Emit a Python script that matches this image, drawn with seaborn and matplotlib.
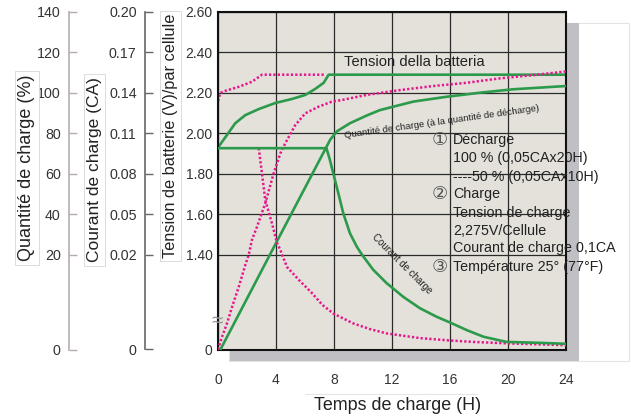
import numpy as np
import matplotlib
matplotlib.use("Agg")
import matplotlib.pyplot as plt
from matplotlib.patches import Rectangle
from matplotlib.lines import Line2D
import seaborn as sns

# ---------------- data ----------------
hours = [0, 4, 8, 12, 16, 20, 24]
volt_ticks = [0, 1.40, 1.60, 1.80, 2.00, 2.20, 2.40, 2.60]
volt_labels = ["0", "1.40", "1.60", "1.80", "2.00", "2.20", "2.40", "2.60"]
qty_ticks = [0, 20, 40, 60, 80, 100, 120, 140]
qty_labels = ["0", "20", "40", "60", "80", "100", "120", "140"]
cur_ticks = [0, 0.02, 0.05, 0.08, 0.11, 0.14, 0.17, 0.20]
cur_labels = ["0", "0.02", "0.05", "0.08", "0.11", "0.14", "0.17", "0.20"]

# battery voltage, 100 % discharge (green) / 50 % discharge (magenta dotted)
t_v100 = [0, 0.5, 1.19, 1.88, 2.81, 3.95, 5.10, 6.02, 6.71, 7.29, 7.63, 24]
v_v100 = [1.93, 1.98, 2.05, 2.09, 2.12, 2.15, 2.17, 2.19, 2.22, 2.25, 2.29, 2.29]
t_v50 = [0, 0.16, 0.5, 1.43, 2.34, 3.03, 7.3]
v_v50 = [2.16, 2.20, 2.21, 2.23, 2.255, 2.29, 2.29]

# charged quantity (%)
t_q100 = [0.17, 3.58, 7.75, 8.2, 9.1, 10.25, 11.17, 13.47, 15.77, 18.07, 20.37, 24]
q_q100 = [0, 20, 77.0, 81.0, 85.0, 88.8, 91.5, 95.7, 98.1, 100.1, 101.8, 103.4]
t_q50 = [0, 0.28, 0.62, 0.97, 1.43, 1.88, 2.12, 2.34, 2.69, 3.26, 3.84, 4.30,
         4.64, 5.33, 6.02, 6.94, 7.86, 8.55, 10.25, 12.55, 14.85, 17.15, 19.45,
         21.75, 24]
q_q50 = [0, 2.7, 5.5, 9.0, 13.2, 17.8, 20.0, 27.3, 33.8, 45.4, 60.3, 70.1,
         75.1, 84.1, 89.9, 93.2, 95.7, 96.5, 99.0, 101.4, 103.4, 105.0, 107.2,
         108.8, 110.6]

# charge current (CA)
t_c100 = [0, 7.48, 7.72, 7.95, 8.30, 8.64, 9.10, 9.57, 9.93, 10.71, 11.63,
          12.78, 13.93, 15.08, 16.0, 17.15, 18.30, 19.45, 19.91, 22.2, 24]
c_c100 = [0.099, 0.099, 0.0902, 0.0803, 0.0655, 0.0507, 0.0359, 0.0260,
          0.0200, 0.0168, 0.0140, 0.0111, 0.0087, 0.0069, 0.0057, 0.0041,
          0.0027, 0.0019, 0.0016, 0.0014, 0.0012]
t_c50 = [2.81, 3.03, 3.26, 3.72, 4.07, 4.30, 4.42, 4.76, 5.57, 6.48, 7.2,
         7.95, 9.33, 10.48, 11.63, 13.93, 16.0, 17.6, 19.9, 24]
c_c50 = [0.099, 0.0804, 0.0606, 0.0433, 0.0287, 0.0235, 0.0200, 0.0174,
         0.0147, 0.0119, 0.0094, 0.0076, 0.0055, 0.0043, 0.0034, 0.0024,
         0.0019, 0.0016, 0.0013, 0.0009]

legend_lines = ["Décharge", "100 % (0,05CAx20H)", "----50 % (0,05CAx10H)",
                "Charge", "Tension de charge", "2,275V/Cellule",
                "Courant de charge 0,1CA", "Température 25° (77°F)"]
legend_marks = {0: "①", 3: "②", 7: "③"}

# ---------------- style ----------------
sns.set_theme(style="white")
plt.rcParams["font.family"] = ["Liberation Sans", "DejaVu Sans", "Noto Sans CJK JP"]

GREEN = "#2b9a4b"
MAGENTA = "#e8168c"
BG = "#e3e1da"
SHADOW = "#bfbfc4"
TXT = "#222222"

W, H = 631, 416
fig = plt.figure(figsize=(W / 100, H / 100), dpi=100)
fig.patch.set_facecolor("white")


def P(x, y):
    return x / W, 1 - y / H


# frame + drop shadow
fig.patches.append(Rectangle(P(229, 361), (629 - 229) / W, (361 - 23) / H,
                             transform=fig.transFigure, facecolor="white",
                             edgecolor="#e4e4e4", lw=0.8, zorder=-3))
fig.patches.append(Rectangle(P(230, 361), (579 - 230) / W, (361 - 23) / H,
                             transform=fig.transFigure, facecolor=SHADOW,
                             edgecolor="none", zorder=-2))

L, R, T, B = 218, 566, 12, 349.5
ax = fig.add_axes([L / W, 1 - B / H, (R - L) / W, (B - T) / H])
axq = ax.twinx()
axc = ax.twinx()

SEG = 94.8 / 40.45  # broken-axis lower segment, in grid steps


def broken(b, step):
    k = SEG * step / b

    def fwd(v):
        v = np.asarray(v, dtype=float)
        return np.where(v >= b, v, b - (b - v) * k)

    def inv(u):
        u = np.asarray(u, dtype=float)
        return np.where(u >= b, u, b - (b - u) / k)
    return fwd, inv


ax.set_yscale("function", functions=broken(1.40, 0.20))
axq.set_yscale("function", functions=broken(20, 20))
axc.set_yscale("function", functions=broken(0.02, 0.03))

ax.set_facecolor(BG)
ax.set_axisbelow(True)

lw_g = 1.9
lw_m = 1.8
dots = (0, (0.9, 0.85))

sns.lineplot(x=t_v50, y=v_v50, ax=ax, color=MAGENTA, linewidth=lw_m,
             linestyle=dots, estimator=None, sort=False)
sns.lineplot(x=t_v100, y=v_v100, ax=ax, color=GREEN, linewidth=lw_g,
             estimator=None, sort=False)
sns.lineplot(x=t_q100, y=q_q100, ax=axq, color=GREEN, linewidth=lw_g,
             estimator=None, sort=False)
sns.lineplot(x=t_q50, y=q_q50, ax=axq, color=MAGENTA, linewidth=lw_m,
             linestyle=dots, estimator=None, sort=False)
sns.lineplot(x=t_c50, y=c_c50, ax=axc, color=MAGENTA, linewidth=lw_m,
             linestyle=dots, estimator=None, sort=False)
sns.lineplot(x=t_c100, y=c_c100, ax=axc, color=GREEN, linewidth=lw_g,
             estimator=None, sort=False)

for a in (ax, axq, axc):
    a.set_xlim(0, 24)
    a.set_xlabel("")
    a.set_ylabel("")
ax.set_ylim(0, 2.60)
axq.set_ylim(0, 140)
axc.set_ylim(0, 0.20)

# main axis: voltage
ax.set_xticks(hours)
ax.set_xticklabels([str(h) for h in hours])
ax.set_yticks(volt_ticks)
ax.set_yticklabels(volt_labels)
ax.grid(True, color="#2b2b2b", lw=0.9)
ax.tick_params(axis="x", length=0, pad=17, labelsize=10, labelcolor="#333333")
ax.tick_params(axis="y", length=0, pad=4, labelsize=10, labelcolor="#333333")
for s in ax.spines.values():
    s.set_visible(True)
    s.set_color("#111111")
    s.set_linewidth(1.5)

# quantity and current axes
for a, pos, ticks, labels, col in ((axq, (69 - L) / (R - L), qty_ticks, qty_labels, "#b8adad"),
                                   (axc, (145 - L) / (R - L), cur_ticks, cur_labels, "#666666")):
    for s in a.spines.values():
        s.set_visible(False)
    a.spines["left"].set_visible(True)
    a.spines["left"].set_position(("axes", pos))
    a.spines["left"].set_color(col)
    a.spines["left"].set_linewidth(1.2)
    a.yaxis.set_ticks_position("left")
    a.yaxis.set_label_position("left")
    a.set_yticks(ticks)
    a.set_yticklabels(labels)
    a.tick_params(axis="y", direction="in", length=6, width=1, color=col,
                  pad=6, labelsize=10.3, labelcolor="#333333")
    a.tick_params(axis="x", length=0, labelbottom=False)
    a.patch.set_visible(False)
    a.grid(False)

# axis titles (boxed)
box = dict(boxstyle="square,pad=0.2", facecolor="white", edgecolor="#d6d6d6", lw=0.6)
fig.text(*P(27, 168), "Quantité de charge (%)", rotation=90, ha="center",
         va="center", fontsize=13, color=TXT, bbox=box)
fig.text(*P(94.5, 170), "Courant de charge (CA)", rotation=90, ha="center",
         va="center", fontsize=12.5, color=TXT, bbox=box)
fig.text(*P(170.5, 136), "Tension de batterie (V)/par cellule", rotation=90,
         ha="center", va="center", fontsize=11.8, color=TXT, bbox=box)
fig.text(*P(397.5, 405), "Temps de charge (H)", ha="center", va="center",
         fontsize=12.9, color=TXT)
fig.add_artist(Line2D([305 / W, 477 / W], [1 - 394 / H] * 2, color="#e6e6e6", lw=0.8))

# in-plot annotations
fig.text(*P(344, 62), "Tension della batteria", ha="left", va="center",
         fontsize=10.6, color=TXT)
fig.text(*P(441.5, 122), "Quantité de charge (à la quantité de décharge)",
         ha="center", va="center", rotation=8, rotation_mode="anchor",
         fontsize=6.8, color=TXT)
fig.text(*P(402, 264), "Courant de charge", ha="center", va="center",
         rotation=-45, rotation_mode="anchor", fontsize=7, color=TXT)
fig.text(*P(217, 321), "≈", ha="center", va="center", fontsize=15, color="#999999")

ys = [140, 158, 177, 194, 213, 231, 248, 267]
for i, (line, y) in enumerate(zip(legend_lines, ys)):
    if i in legend_marks:
        fig.text(*P(439.5, y), legend_marks[i], ha="center", va="center",
                 fontsize=13, color="#555555", family=["DejaVu Sans", "Noto Sans CJK JP"])
    fig.text(*P(453, y), line, ha="left", va="center", fontsize=10.3, color=TXT)

fig.savefig("out.png", dpi=100)
